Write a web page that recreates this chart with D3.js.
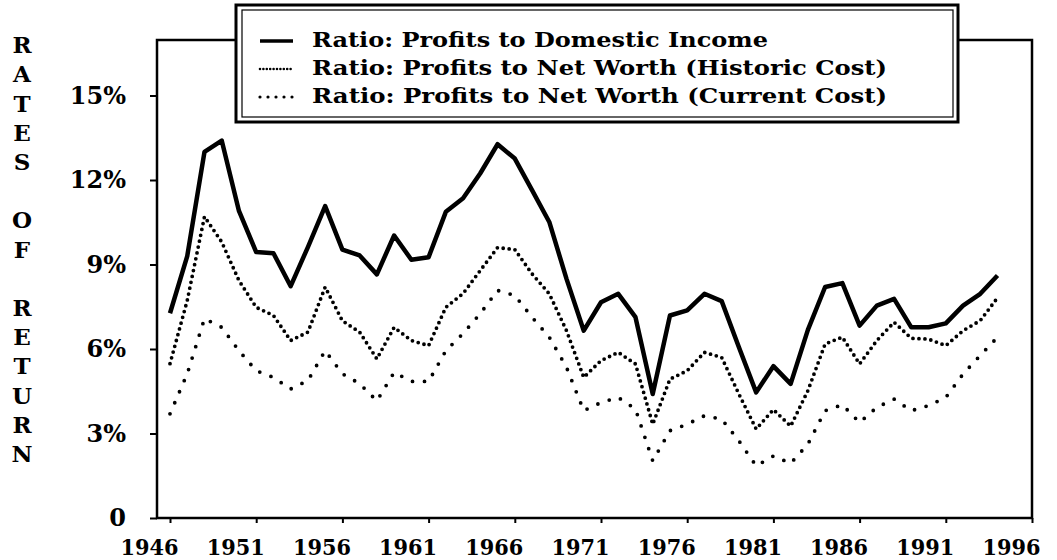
<!DOCTYPE html>
<html>
<head>
<meta charset="utf-8">
<style>
    body { margin: 0; background: #fff; }
    svg text { font-family: "DejaVu Serif", serif; fill: #000; font-weight: bold; }
    .tick text { font-size: 22px; }
    .legend text { font-size: 21px; }
    .ytitle { font-size: 23px; text-anchor: middle; }
</style>
<script src="https://d3js.org/d3.v7.min.js"></script>
</head>
<body>
<svg width="1057" height="560"></svg>
<script>
// years 1946..1994
var years = d3.range(1946, 1995);
var domesticIncome = [7.27, 9.3, 13.0, 13.4, 10.9, 9.44, 9.4, 8.23, 9.62, 11.07,
    9.53, 9.32, 8.65, 10.03, 9.17, 9.26, 10.87, 11.35, 12.24, 13.27,
    12.76, 11.64, 10.51, 8.49, 6.65, 7.66, 7.96, 7.13, 4.4, 7.19,
    7.37, 7.96, 7.7, 6.06, 4.46, 5.39, 4.76, 6.68, 8.2, 8.34,
    6.83, 7.54, 7.78, 6.77, 6.77, 6.91, 7.54, 7.96, 8.61];
var historicCost = [5.48, 7.72, 10.7, 9.8, 8.43, 7.48, 7.19, 6.3, 6.6, 8.2,
    7.0, 6.6, 5.65, 6.77, 6.3, 6.12, 7.48, 7.97, 8.79, 9.6,
    9.53, 8.67, 7.96, 6.65, 4.99, 5.59, 5.88, 5.47, 3.33, 4.93,
    5.23, 5.88, 5.7, 4.4, 3.16, 3.85, 3.26, 4.52, 6.18, 6.42,
    5.47, 6.3, 6.95, 6.38, 6.35, 6.12, 6.65, 7.01, 7.82];
var currentCost = [3.7, 5.12, 7.08, 6.77, 5.94, 5.23, 4.99, 4.58, 4.88, 5.94,
    5.12, 4.77, 4.16, 5.17, 4.85, 4.85, 5.94, 6.55, 7.26, 8.08,
    7.9, 7.13, 6.42, 5.35, 3.81, 4.1, 4.28, 3.87, 2.03, 3.1,
    3.33, 3.63, 3.51, 2.74, 1.85, 2.2, 1.94, 2.62, 3.81, 4.02,
    3.39, 3.93, 4.22, 3.81, 3.99, 4.28, 5.11, 5.77, 6.42];

var xTicks = [1946, 1951, 1956, 1961, 1966, 1971, 1976, 1981, 1986, 1991, 1996];
var yTicks = [0, 3, 6, 9, 12, 15];
var legendLabels = ["Ratio: Profits to Domestic Income",
    "Ratio: Profits to Net Worth (Historic Cost)",
    "Ratio: Profits to Net Worth (Current Cost)"];
var yTitle = ["R", "A", "T", "E", "S", "", "O", "F", "", "R", "E", "T", "U", "R", "N"];

var svg = d3.select("svg");

var frame = { left: 157, right: 1032, top: 40, bottom: 518 };

var x = d3.scaleLinear().domain([1946, 1996]).range([170, 1032]);
var y = d3.scaleLinear().domain([0, 15]).range([518, 95.5]);

// frame
svg.append("rect")
    .attr("x", frame.left)
    .attr("y", frame.top)
    .attr("width", frame.right - frame.left)
    .attr("height", frame.bottom - frame.top)
    .attr("fill", "none")
    .attr("stroke", "#000")
    .attr("stroke-width", 2.5);

// axes
var yAxis = svg.append("g")
    .attr("transform", "translate(" + frame.left + ",0)")
    .call(d3.axisLeft(y).tickValues(yTicks).tickSize(7).tickPadding(24)
        .tickFormat(function (d) { return d === 0 ? "0" : d + "%"; }));
yAxis.select(".domain").remove();
yAxis.selectAll("line").attr("stroke-width", 2);
yAxis.selectAll("text").style("font-size", "24px");

var xAxis = svg.append("g")
    .attr("transform", "translate(0," + frame.bottom + ")")
    .call(d3.axisBottom(x).tickValues(xTicks).tickSize(5).tickPadding(16)
        .tickFormat(d3.format("d")));
xAxis.select(".domain").remove();
xAxis.selectAll("line").attr("stroke-width", 2);
xAxis.selectAll("text")
    .attr("dx", -21)
    .attr("textLength", 58)
    .attr("lengthAdjust", "spacingAndGlyphs")
    .style("font-size", "23px");

// axis title, stacked letters
svg.append("g").selectAll("text")
    .data(yTitle)
    .enter().append("text")
    .attr("class", "ytitle")
    .attr("x", 22)
    .attr("y", function (d, i) { return 45 + i * 29.2; })
    .attr("dy", "0.36em")
    .text(function (d) { return d; });

// series
var line = d3.line()
    .x(function (d, i) { return x(years[i]); })
    .y(function (d) { return y(d); });

svg.append("path")
    .datum(domesticIncome)
    .attr("d", line)
    .attr("fill", "none")
    .attr("stroke", "#000")
    .attr("stroke-width", 4.5)
    .attr("stroke-linejoin", "round");

svg.append("path")
    .datum(historicCost)
    .attr("d", line)
    .attr("fill", "none")
    .attr("stroke", "#000")
    .attr("stroke-width", 3.8)
    .attr("stroke-linecap", "round")
    .attr("stroke-dasharray", "0 6");

svg.append("path")
    .datum(currentCost)
    .attr("d", line)
    .attr("fill", "none")
    .attr("stroke", "#000")
    .attr("stroke-width", 3.8)
    .attr("stroke-linecap", "round")
    .attr("stroke-dasharray", "0 12");

// legend
var legend = svg.append("g").attr("class", "legend");
legend.append("rect")
    .attr("x", 236).attr("y", 5).attr("width", 722).attr("height", 117)
    .attr("fill", "#fff").attr("stroke", "#000").attr("stroke-width", 3);
legend.append("rect")
    .attr("x", 242).attr("y", 10).attr("width", 711).attr("height", 107)
    .attr("fill", "none").attr("stroke", "#000").attr("stroke-width", 1.2);

var sampleY = [41, 69, 97];
var textWidth = [456, 575, 575];
var sampleStyle = [
    { w: 3.5, dash: null, cap: "butt" },
    { w: 2.6, dash: "0 3.4", cap: "round" },
    { w: 3.2, dash: "0 8", cap: "round" }
];
legendLabels.forEach(function (lab, i) {
    legend.append("line")
        .attr("x1", 260).attr("x2", 293)
        .attr("y1", sampleY[i]).attr("y2", sampleY[i])
        .attr("stroke", "#000")
        .attr("stroke-width", sampleStyle[i].w)
        .attr("stroke-linecap", sampleStyle[i].cap)
        .attr("stroke-dasharray", sampleStyle[i].dash);
    legend.append("text")
        .attr("x", 312)
        .attr("y", sampleY[i] + 6)
        .attr("textLength", textWidth[i])
        .attr("lengthAdjust", "spacingAndGlyphs")
        .text(lab);
});
</script>
</body>
</html>
